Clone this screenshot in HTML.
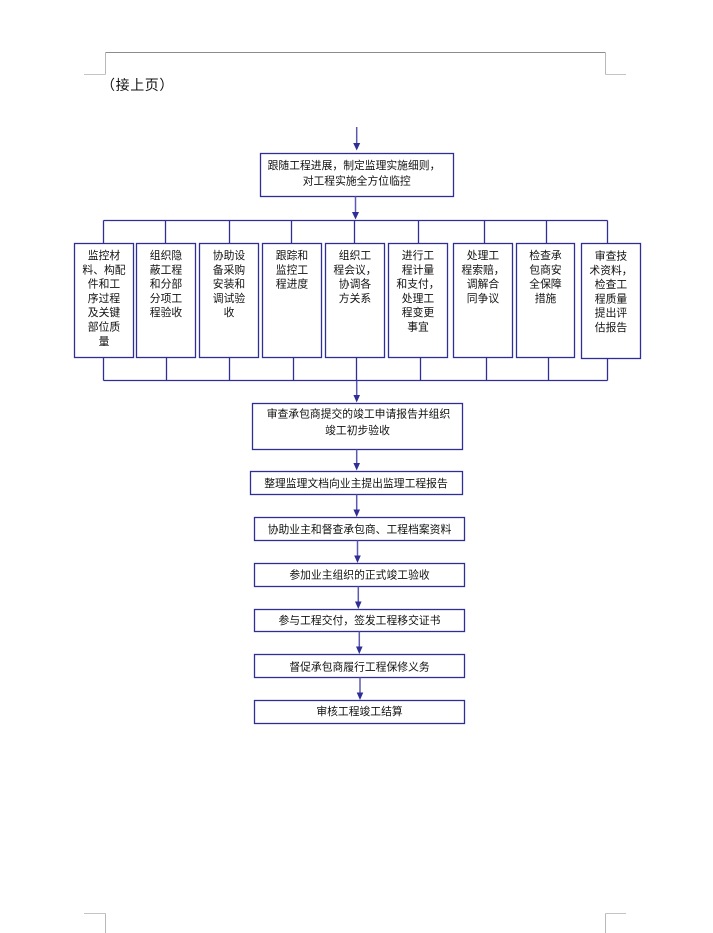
<!DOCTYPE html>
<html>
<head>
<meta charset="utf-8">
<style>
html,body{margin:0;padding:0;background:#fff;}
body{width:713px;height:933px;overflow:hidden;}
svg{display:block;}
text{font-family:"Liberation Sans","Noto Sans CJK SC",sans-serif;fill:#111;}
.t{font-size:10.8px;text-anchor:middle;dominant-baseline:central;}
.b{fill:#fff;stroke:#2e2e96;stroke-width:1.3;}
.l{stroke:#2e2e96;stroke-width:1.3;fill:none;}
.s{stroke:#5a5ab0;stroke-width:1.5;fill:none;}
.h{fill:#2e2e96;}
</style>
</head>
<body>
<svg width="713" height="933" viewBox="0 0 713 933" xmlns="http://www.w3.org/2000/svg">
<!-- page marks -->
<line x1="105.5" y1="52.5" x2="605.5" y2="52.5" stroke="#8c8c8c" stroke-width="1"/>
<line x1="105.5" y1="52.5" x2="105.5" y2="74.5" stroke="#b8b8b8" stroke-width="1"/>
<line x1="605.5" y1="52.5" x2="605.5" y2="74.5" stroke="#b8b8b8" stroke-width="1"/>
<line x1="84" y1="74.5" x2="105.5" y2="74.5" stroke="#c4c4c4" stroke-width="1"/>
<line x1="605.5" y1="74.5" x2="626" y2="74.5" stroke="#c4c4c4" stroke-width="1"/>
<line x1="84" y1="913.5" x2="105.5" y2="913.5" stroke="#c4c4c4" stroke-width="1"/>
<line x1="605.5" y1="913.5" x2="626" y2="913.5" stroke="#c4c4c4" stroke-width="1"/>
<line x1="105.5" y1="913.5" x2="105.5" y2="933" stroke="#b8b8b8" stroke-width="1"/>
<line x1="605.5" y1="913.5" x2="605.5" y2="933" stroke="#b8b8b8" stroke-width="1"/>

<text x="101" y="85" style="font-size:14px;letter-spacing:0.6px;dominant-baseline:central;">（接上页）</text>

<!-- top arrow -->
<line class="s" x1="356.7" y1="127" x2="356.7" y2="145"/>
<polygon class="h" points="353.2,143 360.2,143 356.7,150.5"/>

<!-- top box -->
<rect class="b" x="260.5" y="153.5" width="193" height="43"/>
<text class="t" x="354" y="166">跟随工程进展，制定监理实施细则，</text>
<text class="t" x="356.7" y="181.5">对工程实施全方位临控</text>

<!-- arrow to bus -->
<line class="s" x1="355.5" y1="196.5" x2="355.5" y2="213"/>
<polygon class="h" points="352,212 359,212 355.5,219.5"/>

<!-- top bus -->
<line class="l" x1="103.5" y1="220.5" x2="607.5" y2="220.5"/>
<line class="l" x1="103.5" y1="220.5" x2="103.5" y2="243.5"/>
<line class="l" x1="165.5" y1="220.5" x2="165.5" y2="243.5"/>
<line class="l" x1="229.5" y1="220.5" x2="229.5" y2="243.5"/>
<line class="l" x1="291.5" y1="220.5" x2="291.5" y2="243.5"/>
<line class="l" x1="354.5" y1="220.5" x2="354.5" y2="243.5"/>
<line class="l" x1="418.5" y1="220.5" x2="418.5" y2="243.5"/>
<line class="l" x1="484.5" y1="220.5" x2="484.5" y2="243.5"/>
<line class="l" x1="546.5" y1="220.5" x2="546.5" y2="243.5"/>
<line class="l" x1="607.5" y1="220.5" x2="607.5" y2="243.5"/>

<!-- bottom bus -->
<line class="l" x1="103.5" y1="380.5" x2="607.5" y2="380.5"/>
<line class="l" x1="103.5" y1="357.5" x2="103.5" y2="380.5"/>
<line class="l" x1="166.5" y1="357.5" x2="166.5" y2="380.5"/>
<line class="l" x1="229.5" y1="357.5" x2="229.5" y2="380.5"/>
<line class="l" x1="293.5" y1="357.5" x2="293.5" y2="380.5"/>
<line class="l" x1="356.5" y1="357.5" x2="356.5" y2="380.5"/>
<line class="l" x1="420.5" y1="357.5" x2="420.5" y2="380.5"/>
<line class="l" x1="486.5" y1="357.5" x2="486.5" y2="380.5"/>
<line class="l" x1="548.5" y1="357.5" x2="548.5" y2="380.5"/>
<line class="l" x1="607.5" y1="358.5" x2="607.5" y2="380.5"/>

<!-- row boxes -->
<rect class="b" x="74.5" y="243.5" width="59" height="114"/>
<rect class="b" x="136.5" y="243.5" width="59" height="114"/>
<rect class="b" x="199.5" y="243.5" width="59" height="114"/>
<rect class="b" x="262.5" y="243.5" width="59" height="114"/>
<rect class="b" x="325.5" y="243.5" width="59" height="114"/>
<rect class="b" x="388.5" y="243.5" width="59" height="114"/>
<rect class="b" x="453.5" y="243.5" width="59" height="114"/>
<rect class="b" x="516.5" y="243.5" width="58" height="114"/>
<rect class="b" x="581.5" y="243.5" width="59" height="115"/>

<!-- box1 -->
<text class="t" x="104" y="256">监控材</text>
<text class="t" x="104" y="270.3">料、构配</text>
<text class="t" x="104" y="284.6">件和工</text>
<text class="t" x="104" y="298.9">序过程</text>
<text class="t" x="104" y="313.2">及关键</text>
<text class="t" x="104" y="327.5">部位质</text>
<text class="t" x="104" y="341.8">量</text>
<!-- box2 -->
<text class="t" x="166" y="256">组织隐</text>
<text class="t" x="166" y="270.3">蔽工程</text>
<text class="t" x="166" y="284.6">和分部</text>
<text class="t" x="166" y="298.9">分项工</text>
<text class="t" x="166" y="313.2">程验收</text>
<!-- box3 -->
<text class="t" x="229" y="256">协助设</text>
<text class="t" x="229" y="270.3">备采购</text>
<text class="t" x="229" y="284.6">安装和</text>
<text class="t" x="229" y="298.9">调试验</text>
<text class="t" x="229" y="313.2">收</text>
<!-- box4 -->
<text class="t" x="292" y="256">跟踪和</text>
<text class="t" x="292" y="270.3">监控工</text>
<text class="t" x="292" y="284.6">程进度</text>
<!-- box5 -->
<text class="t" x="355" y="256">组织工</text>
<text class="t" x="355" y="270.3">程会议，</text>
<text class="t" x="355" y="284.6">协调各</text>
<text class="t" x="355" y="298.9">方关系</text>
<!-- box6 -->
<text class="t" x="418" y="256">进行工</text>
<text class="t" x="418" y="270.3">程计量</text>
<text class="t" x="418" y="284.6">和支付，</text>
<text class="t" x="418" y="298.9">处理工</text>
<text class="t" x="418" y="313.2">程变更</text>
<text class="t" x="418" y="327.5">事宜</text>
<!-- box7 -->
<text class="t" x="483" y="256">处理工</text>
<text class="t" x="483" y="270.3">程索赔，</text>
<text class="t" x="483" y="284.6">调解合</text>
<text class="t" x="483" y="298.9">同争议</text>
<!-- box8 -->
<text class="t" x="545.5" y="256">检查承</text>
<text class="t" x="545.5" y="270.3">包商安</text>
<text class="t" x="545.5" y="284.6">全保障</text>
<text class="t" x="545.5" y="298.9">措施</text>
<!-- box9 -->
<text class="t" x="611" y="256.5">审查技</text>
<text class="t" x="611" y="270.8">术资料，</text>
<text class="t" x="611" y="285.1">检查工</text>
<text class="t" x="611" y="299.4">程质量</text>
<text class="t" x="611" y="313.7">提出评</text>
<text class="t" x="611" y="328">估报告</text>

<!-- arrow bus -> A -->
<line class="s" x1="356.7" y1="381" x2="356.7" y2="397"/>
<polygon class="h" points="353.4,395 360,395 356.7,402.5"/>
<rect class="b" x="252.5" y="403.5" width="210" height="46"/>
<text class="t" x="358.5" y="414.5">审查承包商提交的竣工申请报告并组织</text>
<text class="t" x="357.5" y="431">竣工初步验收</text>

<!-- A -> B -->
<line class="s" x1="356.7" y1="449.5" x2="356.7" y2="465"/>
<polygon class="h" points="353.4,463 360,463 356.7,470.5"/>
<rect class="b" x="250.5" y="471.5" width="212" height="23"/>
<text class="t" x="356" y="484">整理监理文档向业主提出监理工程报告</text>

<!-- B -> C -->
<line class="s" x1="356.7" y1="494.5" x2="356.7" y2="511"/>
<polygon class="h" points="353.4,509.5 360,509.5 356.7,517"/>
<rect class="b" x="254.5" y="517.5" width="210" height="23"/>
<text class="t" x="359.5" y="530">协助业主和督查承包商、工程档案资料</text>

<!-- C -> D -->
<line class="s" x1="357.5" y1="540.5" x2="357.5" y2="557"/>
<polygon class="h" points="354.2,555.5 360.8,555.5 357.5,563"/>
<rect class="b" x="254.5" y="563.5" width="210" height="23"/>
<text class="t" x="359.5" y="575.5">参加业主组织的正式竣工验收</text>

<!-- D -> E -->
<line class="s" x1="358.3" y1="586.5" x2="358.3" y2="603"/>
<polygon class="h" points="355,601.5 361.6,601.5 358.3,609"/>
<rect class="b" x="254.5" y="609.5" width="210" height="22"/>
<text class="t" x="359.5" y="621">参与工程交付，签发工程移交证书</text>

<!-- E -> F -->
<line class="s" x1="359.3" y1="631.5" x2="359.3" y2="648"/>
<polygon class="h" points="356,646.5 362.6,646.5 359.3,654"/>
<rect class="b" x="254.5" y="654.5" width="210" height="23"/>
<text class="t" x="359.5" y="667.5">督促承包商履行工程保修义务</text>

<!-- F -> G -->
<line class="s" x1="360" y1="677.5" x2="360" y2="694"/>
<polygon class="h" points="356.7,692.5 363.3,692.5 360,700"/>
<rect class="b" x="254.5" y="700.5" width="210" height="23"/>
<text class="t" x="359.5" y="712">审核工程竣工结算</text>
</svg>
</body>
</html>
